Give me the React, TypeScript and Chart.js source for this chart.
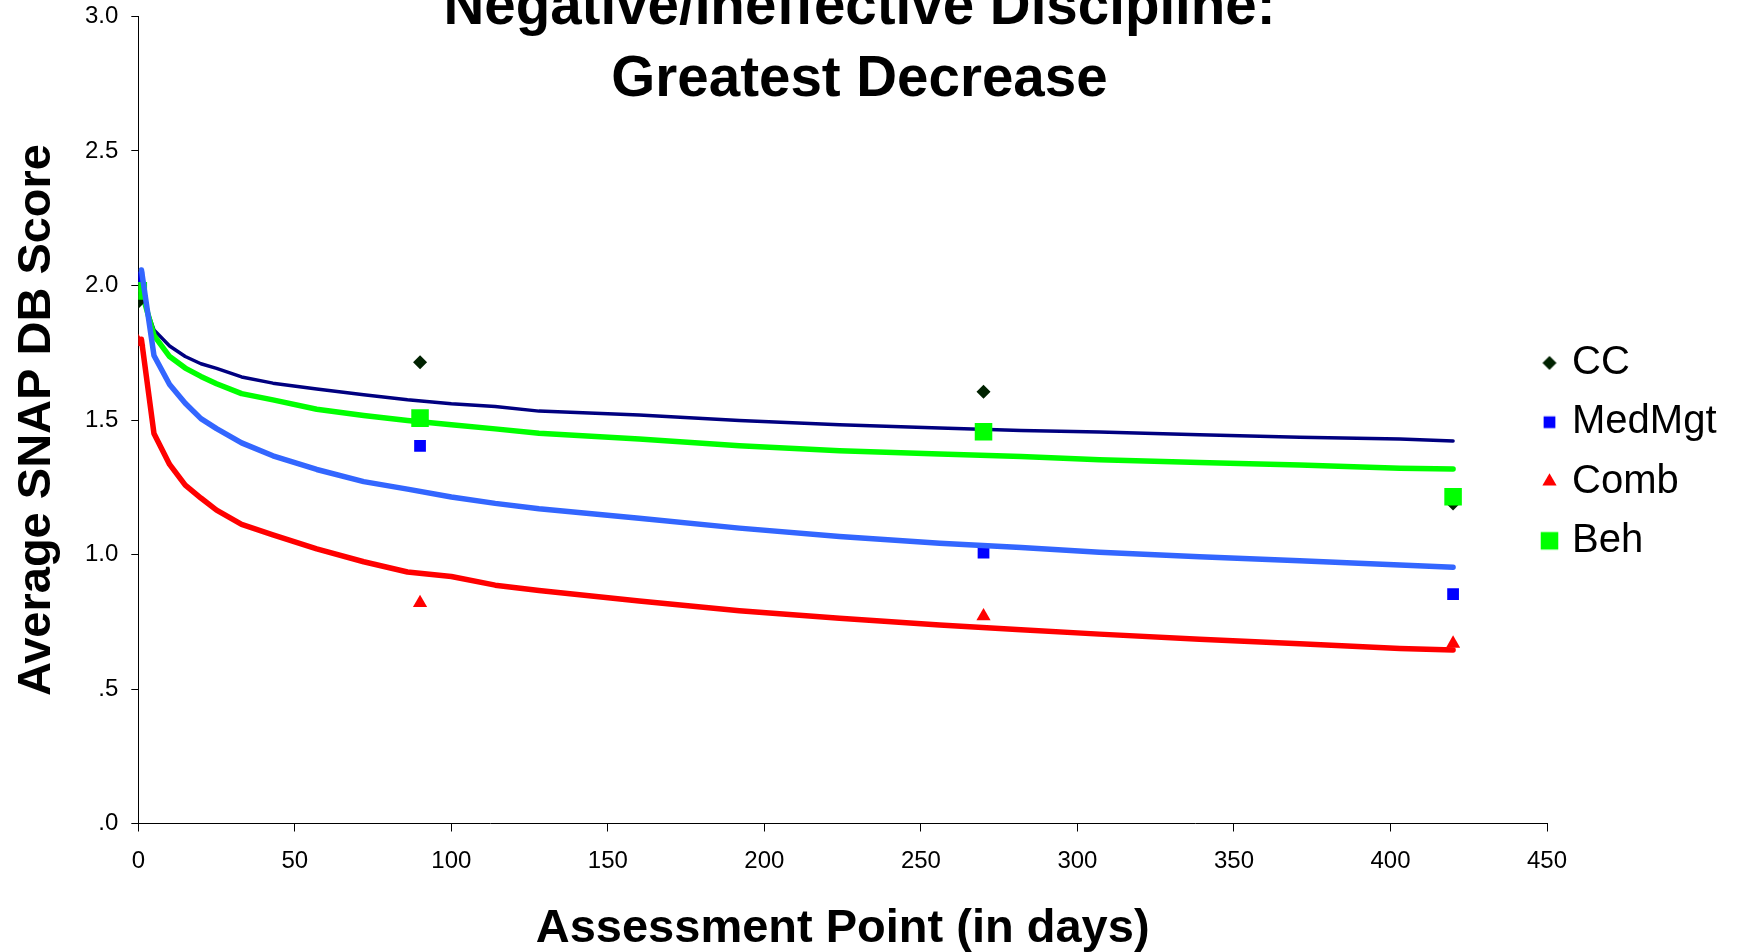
import React, { useEffect, useRef } from 'react';
import { Chart, registerables } from 'chart.js';
import { drawPoint } from 'chart.js/helpers';

Chart.register(...registerables);

// ---- data ----
const seriesNames = ['CC', 'MedMgt', 'Comb', 'Beh'];
const assessmentDays = [0, 90, 270, 420];
const ccScores = [1.94, 1.715, 1.605, 1.19];
const medMgtScores = [2.03, 1.404, 1.007, 0.853];
const combScores = [1.79, 0.82, 0.771, 0.669];
const behScores = [1.98, 1.507, 1.456, 1.215];

const trendDays = [1, 5, 10, 15, 20, 25, 33, 43, 57, 72, 86, 100, 114, 128, 160, 192, 224, 256, 282, 307, 339, 371, 403, 420];
const ccTrend = [1.97, 1.835, 1.775, 1.736, 1.709, 1.692, 1.66, 1.637, 1.615, 1.594, 1.575, 1.56, 1.55, 1.533, 1.519, 1.498, 1.482, 1.47, 1.461, 1.455, 1.445, 1.436, 1.429, 1.422];
const medMgtTrend = [2.058, 1.74, 1.632, 1.562, 1.505, 1.468, 1.415, 1.367, 1.316, 1.271, 1.243, 1.214, 1.19, 1.17, 1.135, 1.098, 1.067, 1.042, 1.026, 1.008, 0.992, 0.977, 0.961, 0.953];
const combTrend = [1.8, 1.45, 1.335, 1.258, 1.21, 1.165, 1.112, 1.073, 1.021, 0.973, 0.935, 0.918, 0.886, 0.866, 0.827, 0.791, 0.763, 0.738, 0.72, 0.704, 0.685, 0.668, 0.651, 0.645];
const behTrend = [1.98, 1.815, 1.736, 1.693, 1.662, 1.635, 1.598, 1.575, 1.54, 1.517, 1.498, 1.482, 1.467, 1.451, 1.429, 1.404, 1.386, 1.374, 1.364, 1.352, 1.342, 1.333, 1.321, 1.318];

const chartTitle = ['Negative/Ineffective Discipline:', 'Greatest Decrease'];
const xAxisTitle = 'Assessment Point (in days)';
const yAxisTitle = 'Average SNAP DB Score';

const FONT = "'Liberation Sans', Arial, Helvetica, sans-serif";
const SHIFT = 31; // canvas shifted up: the title's top is cut off in the reference
const LEGEND_PAD = 8;

const markerStyles = [
  { style: 'rectRot', radius: 7, color: '#002200' },
  { style: 'rect', radius: 8.3, color: '#0000FF' },
  { style: 'triangle', radius: 8.2, color: '#FF0000' },
  { style: 'rect', radius: 12.4, color: '#00FF00' },
];
const lineStyles = [
  { color: '#000080', width: 3.5 },
  { color: '#3366FF', width: 5.5 },
  { color: '#FF0000', width: 5.5 },
  { color: '#00FF00', width: 5.5 },
];

const toPoints = (xs: number[], ys: number[]) => xs.map((x, i) => ({ x, y: ys[i] }));

function makeMarker(style: string, radius: number, color: string) {
  const size = Math.ceil(radius * 2) + 4;
  const c = document.createElement('canvas');
  c.width = size;
  c.height = size;
  const ctx = c.getContext('2d')!;
  ctx.fillStyle = color;
  drawPoint(ctx, { pointStyle: style as any, radius, rotation: 0, borderWidth: 0 }, size / 2, size / 2);
  return c;
}

// lets the legend box reach a little over the plot's right edge, as in the reference
const legendOverlap = {
  id: 'legendOverlap',
  afterLayout(chart: any) {
    const lg = chart.legend;
    if (!lg) return;
    lg.left -= LEGEND_PAD;
    lg.width += LEGEND_PAD;
    lg.top -= 3.4;
    lg.height += 3.4;
  },
};

export default function App() {
  const ref = useRef<HTMLCanvasElement | null>(null);

  useEffect(() => {
    const canvas = ref.current;
    if (!canvas) return;
    const scoreSets = [ccScores, medMgtScores, combScores, behScores];
    const trendSets = [ccTrend, medMgtTrend, combTrend, behTrend];
    // drawing order (lower = on top)
    const scatterOrder = [5, 3, 4, 2];
    const lineOrder = [7, 0, 1, 6];

    const scatterSets = seriesNames.map((name, i) => ({
      label: name,
      data: toPoints(assessmentDays, scoreSets[i]),
      pointStyle: markerStyles[i].style,
      pointRadius: markerStyles[i].radius,
      pointHoverRadius: markerStyles[i].radius,
      pointBorderWidth: 0,
      backgroundColor: markerStyles[i].color,
      borderColor: markerStyles[i].color,
      showLine: false,
      order: scatterOrder[i],
    }));
    const trendSetsDs = seriesNames.map((name, i) => ({
      label: name + ' trend',
      data: toPoints(trendDays, trendSets[i]),
      showLine: true,
      pointRadius: 0,
      pointHoverRadius: 0,
      borderColor: lineStyles[i].color,
      backgroundColor: lineStyles[i].color,
      borderWidth: lineStyles[i].width,
      borderCapStyle: 'round',
      borderJoinStyle: 'round',
      tension: 0,
      fill: false,
      order: lineOrder[i],
    }));

    const markers = markerStyles.map((m) => makeMarker(m.style, m.radius, m.color));

    const chart = new Chart(canvas, {
      type: 'scatter',
      data: { datasets: [...scatterSets, ...trendSetsDs] as any },
      plugins: [legendOverlap],
      options: {
        animation: false,
        responsive: false,
        devicePixelRatio: 1,
        layout: { padding: { left: 0, top: 0, right: 18, bottom: 2.6 } },
        plugins: {
          tooltip: { enabled: false },
          title: {
            display: true,
            text: chartTitle,
            color: '#000',
            font: { family: FONT, size: 56.5, weight: 'bold', lineHeight: 72 / 56.5 },
            padding: { top: 3.3, bottom: -99.8 },
          },
          legend: {
            display: true,
            position: 'right',
            maxWidth: 172,
            labels: {
              usePointStyle: true,
              boxWidth: 5,
              padding: LEGEND_PAD,
              color: '#000',
              font: { family: FONT, size: 40, lineHeight: (59.3 - LEGEND_PAD) / 40 },
              generateLabels: () =>
                seriesNames.map((name, i) => ({
                  text: [name],
                  fillStyle: markerStyles[i].color,
                  strokeStyle: markerStyles[i].color,
                  fontColor: '#000',
                  lineWidth: 0,
                  pointStyle: markers[i],
                  rotation: 0,
                  hidden: false,
                  datasetIndex: i,
                })) as any,
            },
          },
        },
        scales: {
          x: {
            type: 'linear',
            min: 0,
            max: 450,
            afterFit: (s: any) => {
              s.height = 125.9;
            },
            ticks: {
              stepSize: 50,
              color: '#000',
              font: { family: FONT, size: 24 },
              padding: 15.1,
              maxRotation: 0,
              autoSkip: false,
            },
            grid: { drawOnChartArea: false, drawTicks: true, tickLength: 8, color: '#000', lineWidth: 1 },
            border: { display: true, color: '#000', width: 1 },
            title: {
              display: true,
              text: xAxisTitle,
              color: '#000',
              font: { family: FONT, size: 47, weight: 'bold', lineHeight: 1 },
              padding: { top: 0, bottom: -3.2 },
            },
          },
          y: {
            type: 'linear',
            min: 0,
            max: 3,
            afterFit: (s: any) => {
              s.width = 138.3;
            },
            ticks: {
              stepSize: 0.5,
              color: '#000',
              font: { family: FONT, size: 24 },
              padding: 13,
              callback: (v: any) => Number(v).toFixed(1).replace(/^0\./, '.'),
            },
            grid: { drawOnChartArea: false, drawTicks: true, tickLength: 7, color: '#000', lineWidth: 1 },
            border: { display: true, color: '#000', width: 1 },
            title: {
              display: true,
              text: yAxisTitle,
              color: '#000',
              font: { family: FONT, size: 47, weight: 'bold', lineHeight: 1 },
              padding: { top: 13.5, bottom: 0 },
            },
          },
        },
      } as any,
    });
    return () => chart.destroy();
  }, []);

  return (
    <canvas
      ref={ref}
      width={1737}
      height={952 + SHIFT}
      style={{ position: 'fixed', left: 0, top: -SHIFT, width: 1737, height: 952 + SHIFT, display: 'block' }}
    />
  );
}
